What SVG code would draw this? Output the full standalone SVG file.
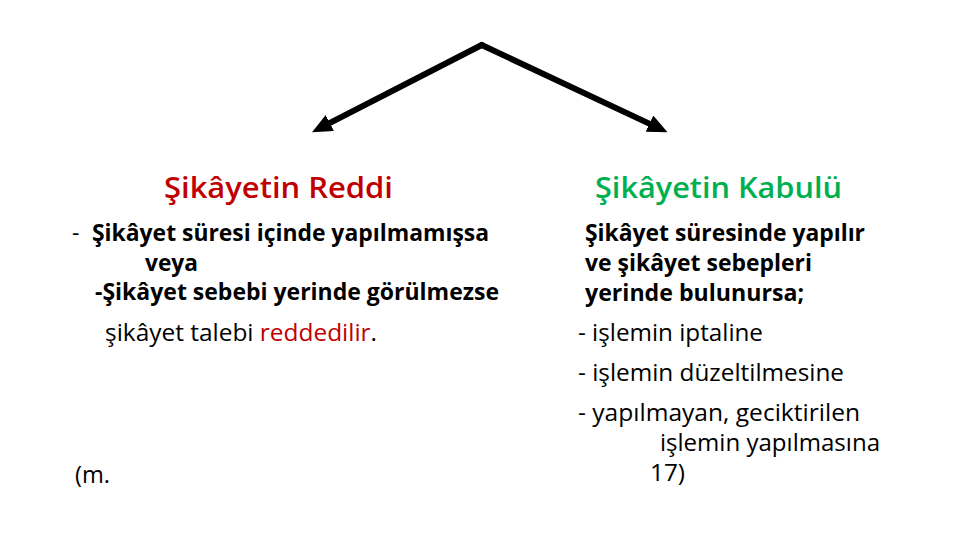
<svg xmlns="http://www.w3.org/2000/svg" width="960" height="540" viewBox="0 0 960 540">
<style>
text{font-family:"Open Sans","Noto Sans","Liberation Sans",sans-serif;fill:#000;}
.t{font-size:28px;font-weight:600;}
.red{fill:#C00000;}
.green{fill:#00B050;}
.b{font-size:23px;font-weight:700;}
.r{font-size:23px;font-weight:400;}
.conn{stroke:#000;stroke-width:6;stroke-linecap:round;fill:none;}
</style>
<defs>
<marker id="ah" markerUnits="userSpaceOnUse" markerWidth="22" markerHeight="20" refX="8" refY="9" orient="auto" viewBox="0 0 22 20">
<path d="M0,0 L20,9 L0,18 z" fill="#000"/>
</marker>
</defs>
<rect width="960" height="540" fill="#fff"/>
<g id="connectors">
<line class="conn" x1="481.7" y1="45" x2="322.7" y2="126.7" marker-end="url(#ah)"/>
<line class="conn" x1="481.7" y1="45" x2="656.7" y2="127.1" marker-end="url(#ah)"/>
</g>
<g id="reddi">
<text class="t red" x="164" y="198" textLength="229" lengthAdjust="spacingAndGlyphs">Şikâyetin Reddi</text>
<text class="r" x="72" y="241">-</text>
<text class="b" x="92" y="241" textLength="397" lengthAdjust="spacingAndGlyphs">Şikâyet süresi içinde yapılmamışsa</text>
<text class="b" x="145" y="271" textLength="53" lengthAdjust="spacingAndGlyphs">veya</text>
<text class="b" x="95" y="300" textLength="404" lengthAdjust="spacingAndGlyphs">-Şikâyet sebebi yerinde görülmezse</text>
<text class="r" x="105" y="341" textLength="272" lengthAdjust="spacingAndGlyphs">şikâyet talebi <tspan class="red">reddedilir</tspan>.</text>
</g>
<g id="kabulu">
<text class="t green" x="595" y="198" textLength="247" lengthAdjust="spacingAndGlyphs">Şikâyetin Kabulü</text>
<text class="b" x="585" y="241" textLength="280" lengthAdjust="spacingAndGlyphs">Şikâyet süresinde yapılır</text>
<text class="b" x="585" y="271" textLength="227" lengthAdjust="spacingAndGlyphs">ve şikâyet sebepleri</text>
<text class="b" x="585" y="301" textLength="219" lengthAdjust="spacingAndGlyphs">yerinde bulunursa;</text>
<text class="r" x="578" y="341" textLength="185" lengthAdjust="spacingAndGlyphs">- işlemin iptaline</text>
<text class="r" x="578" y="381" textLength="266" lengthAdjust="spacingAndGlyphs">- işlemin düzeltilmesine</text>
<text class="r" x="578" y="421" textLength="282" lengthAdjust="spacingAndGlyphs">- yapılmayan, geciktirilen</text>
<text class="r" x="660" y="451" textLength="220" lengthAdjust="spacingAndGlyphs">işlemin yapılmasına</text>
<text class="r" x="650" y="481" textLength="35" lengthAdjust="spacingAndGlyphs">17)</text>
</g>
<g id="madde">
<text class="r" x="75" y="483" textLength="35" lengthAdjust="spacingAndGlyphs">(m.</text>
</g>
</svg>
